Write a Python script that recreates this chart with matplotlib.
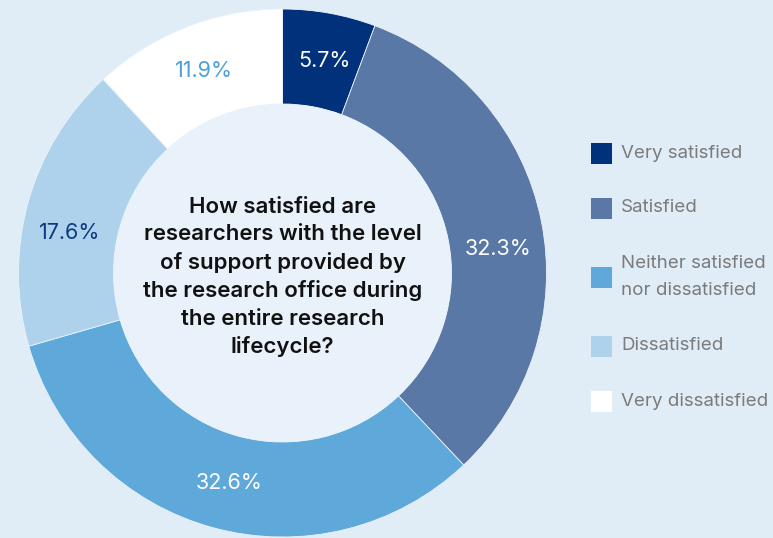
import numpy as np
import matplotlib.pyplot as plt
from matplotlib.patches import Circle, Rectangle

plt.rcParams['font.family'] = ['Inter', 'DejaVu Sans']

categories = ['Very satisfied', 'Satisfied', 'Neither satisfied\nnor dissatisfied',
              'Dissatisfied', 'Very dissatisfied']
shares = [5.7, 32.3, 32.6, 17.6, 11.9]
colors = ['#00317a', '#5a78a6', '#5fa8da', '#aed2ec', '#ffffff']
label_colors = ['white', 'white', 'white', '#0d3a7e', '#4c9fd8']
# small angular nudges (degrees) for the value labels
label_nudge = [-1, -5, 1, 5, 0]
question = ('How satisfied are\nresearchers with the level\nof support provided by\n'
            'the research office during\nthe entire research\nlifecycle?')

bg = '#e0edf7'
W, H = 773, 538
fig = plt.figure(figsize=(W / 100, H / 100), dpi=100, facecolor=bg)
ax = fig.add_axes([0, 0, 1, 1])

cx, cy = 282.5, H - 273
r_out, r_in = 264, 169

wedges, _ = ax.pie(shares, colors=colors, startangle=90, counterclock=False,
                   radius=r_out, center=(cx, cy), frame=True,
                   wedgeprops=dict(width=r_out - r_in, edgecolor='#eaf2fa', linewidth=0.6))
ax.set_xlim(0, W)
ax.set_ylim(0, H)
ax.set_aspect('equal')
ax.axis('off')

ax.add_patch(Circle((cx, cy), r_in, facecolor='#e9f2fa', edgecolor='none', zorder=3))

# value labels in the middle of the ring
r_lab = (r_out + r_in) / 2
for w, v, c, d in zip(wedges, shares, label_colors, label_nudge):
    ang = np.deg2rad((w.theta1 + w.theta2) / 2 + d)
    ax.text(cx + r_lab * np.cos(ang), cy + r_lab * np.sin(ang), f'{v}%',
            ha='center', va='center', fontsize=15.5, color=c, zorder=4)

ax.text(cx, H - 277, question, ha='center', va='center', fontsize=16,
        fontweight='semibold', color='#111111', linespacing=1.45, zorder=4)

# legend on the right
y = H - 153
sq = 21
for i, (lab, col) in enumerate(zip(categories, colors)):
    n = lab.count('\n') + 1
    if i > 0:
        y -= 55 + 14 * (n - 1) + 14 * categories[i - 1].count('\n')
    ax.add_patch(Rectangle((591, y - sq / 2), sq, sq, facecolor=col, edgecolor='none'))
    ax.text(621, y, lab, ha='left', va='center', fontsize=13.5, color='#7b7b7b',
            linespacing=1.76)

fig.savefig('out.png', dpi=100, facecolor=bg)
